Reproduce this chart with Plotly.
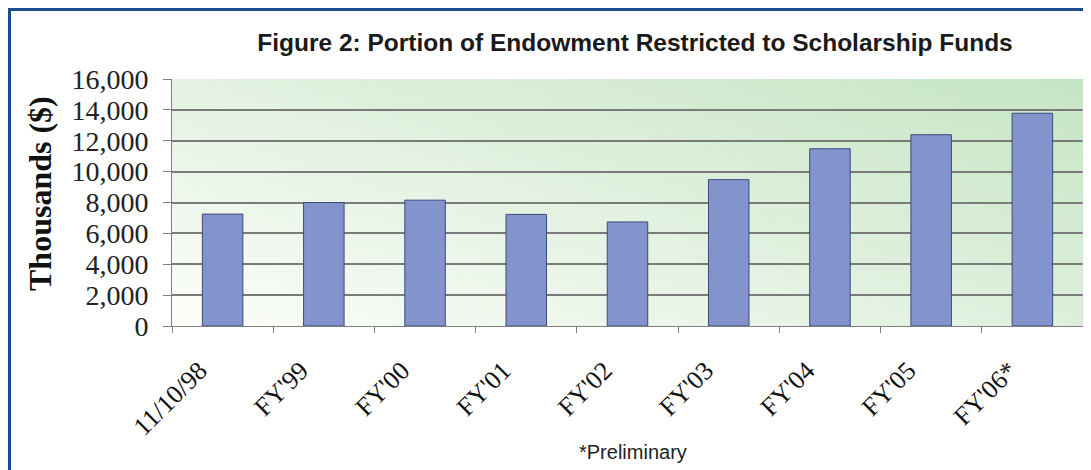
import plotly.graph_objects as go
import zlib, struct, base64

# ---------------- data ----------------
categories = ["11/10/98", "FY'99", "FY'00", "FY'01", "FY'02", "FY'03", "FY'04", "FY'05", "FY'06*"]
values = [7250, 8000, 8150, 7230, 6740, 9480, 11480, 12390, 13780]
y_ticks = [0, 2000, 4000, 6000, 8000, 10000, 12000, 14000, 16000]
y_tick_labels = ["0", "2,000", "4,000", "6,000", "8,000", "10,000", "12,000", "14,000", "16,000"]

# ---------------- layout constants (page offset of 8px from body margin) ----------------
OFF = 8
W, H = 1091 - OFF, 470 - OFF
ML, MT = 172 - OFF, 79 - OFF
MR = W - (1083 - OFF)
MB = H - (326 - OFF)
PW, PH = W - ML - MR, H - MT - MB


def px_x(page_px):
    return (page_px - OFF - ML) / PW


def px_y(page_py):
    return (H - MB - (page_py - OFF)) / PH


# ---------------- gradient background image ----------------
def gradient_png(w, h, c0, c1):
    raw = bytearray()
    for j in range(h):
        raw.append(0)
        for i in range(w):
            t = (i / (w - 1) * 0.55 + (1 - j / (h - 1)) * 0.45)
            t = max(0.0, min(1.0, t))
            for k in range(3):
                raw.append(int(round(c0[k] + (c1[k] - c0[k]) * t)))

    def chunk(tag, data):
        c = struct.pack(">I", len(data)) + tag + data
        return c + struct.pack(">I", zlib.crc32(tag + data) & 0xffffffff)

    png = (b"\x89PNG\r\n\x1a\n"
           + chunk(b"IHDR", struct.pack(">IIBBBBB", w, h, 8, 2, 0, 0, 0))
           + chunk(b"IDAT", zlib.compress(bytes(raw)))
           + chunk(b"IEND", b""))
    return "data:image/png;base64," + base64.b64encode(png).decode()


bg_src = gradient_png(160, 60, (252, 253, 250), (198, 229, 196))

fig = go.Figure()
fig.add_trace(go.Bar(
    x=categories, y=values,
    marker=dict(color="rgb(131,147,204)", line=dict(color="rgb(60,72,125)", width=1)),
    hoverinfo="x+y",
))

serif = "Liberation Serif, Times New Roman, serif"
sans = "Liberation Sans, Arial, sans-serif"
sans_c = "Liberation Sans Narrow, Arial Narrow, Liberation Sans, sans-serif"

fig.update_layout(
    width=W, height=H,
    margin=dict(l=ML, r=MR, t=MT, b=MB, autoexpand=False),
    paper_bgcolor="white",
    plot_bgcolor="rgba(0,0,0,0)",
    showlegend=False,
    bargap=0.6,
    title=dict(
        text="<b>Figure 2: Portion of Endowment Restricted to Scholarship Funds</b>",
        font=dict(family=sans, size=24.5, color="#1a1a1a"),
        xref="container", yref="container",
        x=(635 - OFF) / W, y=1 - (42 - OFF) / H, xanchor="center", yanchor="middle",
    ),
    xaxis=dict(
        type="category",
        tickangle=-45,
        tickson="boundaries",
        ticks="outside", ticklen=6, tickcolor="#808080", tickwidth=1,
        showline=True, linecolor="#808080", linewidth=1,
        showgrid=False,
        tickfont=dict(family=serif, size=26, color="#111"),
        ticklabelstandoff=18,
        ticklabelshift=-23,
        range=[-0.5, len(categories) - 0.5],
    ),
    yaxis=dict(
        range=[0, 16000],
        tickmode="array", tickvals=y_ticks, ticktext=y_tick_labels,
        ticks="outside", ticklen=8, tickcolor="#808080", tickwidth=1,
        showline=True, linecolor="#808080", linewidth=1,
        showgrid=True, gridcolor="#7a7a7a", gridwidth=1.5,
        zeroline=False,
        tickfont=dict(family=serif, size=28, color="#222"),
        ticklabelstandoff=9,
    ),
    images=[dict(
        source=bg_src, xref="paper", yref="paper", x=0, y=1, sizex=1, sizey=1,
        sizing="stretch", xanchor="left", yanchor="top", layer="below",
    )],
    shapes=[
        dict(type="line", xref="paper", yref="paper", x0=px_x(8), x1=px_x(1091), y0=px_y(9.5), y1=px_y(9.5),
             line=dict(color="#1b4c8c", width=3)),
        dict(type="line", xref="paper", yref="paper", x0=px_x(9.5), x1=px_x(9.5), y0=px_y(8), y1=px_y(470),
             line=dict(color="#1b4c8c", width=3)),
        dict(type="line", xref="paper", yref="paper", x0=1, x1=1, y0=0, y1=1,
             line=dict(color="#c8d4c8", width=1)),
    ],
    annotations=[
        dict(text="*Preliminary", xref="paper", yref="paper", x=px_x(577), y=px_y(452),
             xanchor="left", yanchor="middle", showarrow=False,
             font=dict(family=sans_c, size=20, color="#222")),
        dict(text="<b>Thousands ($)</b>", xref="paper", yref="paper", x=px_x(40), y=px_y(194),
             xanchor="center", yanchor="middle", textangle=-90, showarrow=False,
             font=dict(family=serif, size=32, color="#111")),
    ],
)

fig.write_html("out.html")
